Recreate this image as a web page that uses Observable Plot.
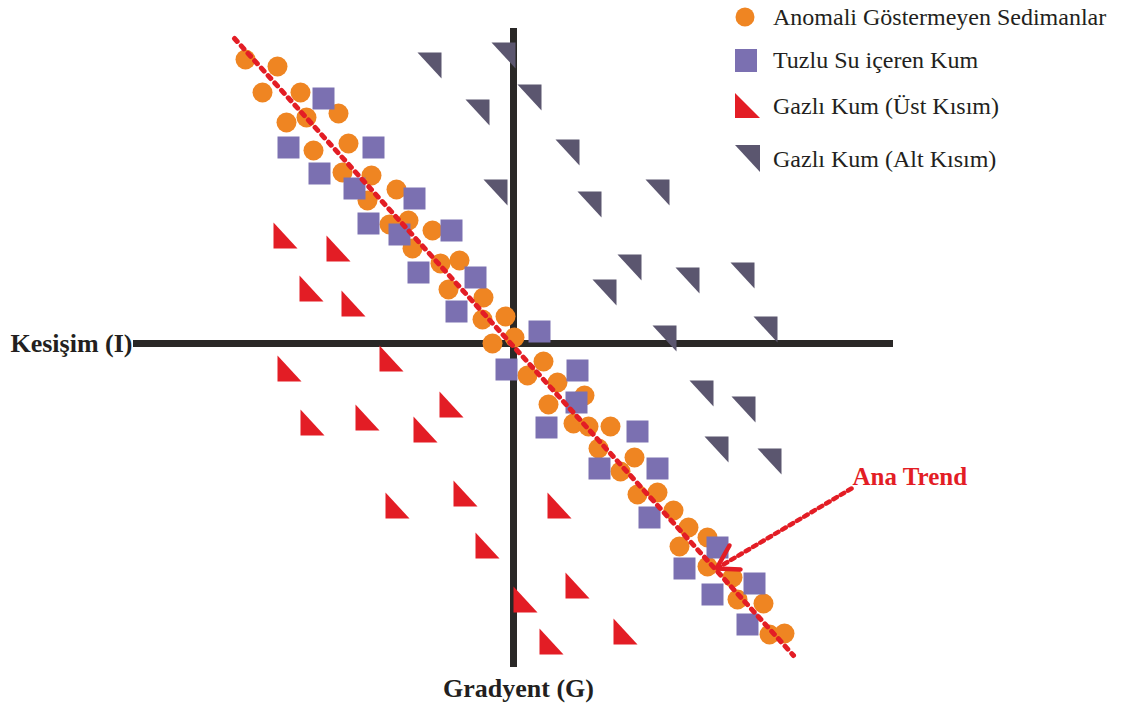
<!DOCTYPE html>
<html><head><meta charset="utf-8">
<script src="https://cdn.jsdelivr.net/npm/d3@7"></script>
<script src="https://cdn.jsdelivr.net/npm/@observablehq/plot@0.6"></script>
<style>
body{margin:0;background:#fff;}
#wrap{position:relative;width:1125px;height:711px;overflow:hidden;background:#fff;}
.lg{position:absolute;left:733px;height:30px;display:flex;align-items:center;font-family:"Liberation Serif",serif;font-size:24px;color:#231f20;white-space:nowrap;}
.lg svg{margin-right:10px;}
</style></head><body><div id="wrap"></div>
<script>
// Anomali Göstermeyen Sedimanlar (circles)
const sedimentX = [-26.8,-23.6,-25.1,-21.3,-20.7,-22.7,-17.5,-20.0,-16.5,-17.1,-14.2,-14.6,-11.7,-12.4,-10.5,-8.1,-10.1,-7.3,-5.4,-6.5,-3.0,-3.1,-0.8,-2.1,0.1,3.0,1.4,4.4,7.1,3.5,6.0,7.5,9.7,8.5,12.1,10.7,12.4,14.4,16.0,17.5,19.4,16.6,19.4,21.9,22.4,25.0,25.6,27.1];
const sedimentY = [28.4,27.7,25.1,25.1,22.6,22.1,23.0,19.3,20.0,17.1,16.8,14.3,15.4,11.9,12.3,11.3,9.5,8.0,8.3,5.4,4.6,2.4,2.7,0.0,0.6,-1.8,-3.2,-3.9,-5.2,-6.1,-8.0,-8.3,-8.3,-10.5,-11.4,-12.8,-15.1,-14.9,-16.7,-18.4,-19.4,-20.3,-22.3,-23.4,-25.6,-26.0,-29.1,-29.0];
// Tuzlu Su içeren Kum (squares)
const brineX = [-19.0,-22.5,-14.0,-19.4,-15.9,-9.9,-14.5,-11.4,-6.2,-9.5,-3.8,-5.7,2.6,-0.7,6.4,6.3,3.3,12.4,8.6,14.4,13.6,20.4,17.1,24.1,19.9,23.4];
const brineY = [24.5,19.6,19.6,17.0,15.5,14.5,12.0,10.9,11.3,7.1,6.6,3.2,1.2,-2.6,-2.7,-5.9,-8.4,-8.8,-12.5,-12.5,-17.4,-20.4,-22.5,-24.0,-25.1,-28.1];
// Gazlı Kum (Üst Kısım) (red triangles)
const gasTopX = [-22.8,-17.5,-20.2,-16.0,-22.4,-12.2,-20.1,-14.6,-6.2,-8.8,-11.6,-4.8,-2.6,4.6,1.2,6.4,3.8,11.2];
const gasTopY = [10.8,9.5,5.5,4.0,-2.5,-1.5,-7.9,-7.4,-6.1,-8.6,-16.2,-15.0,-20.2,-16.2,-25.6,-24.2,-29.8,-28.8];
// Gazlı Kum (Alt Kısım) (dark triangles)
const gasBaseX = [-8.4,-1.0,-3.6,1.6,5.4,-1.8,7.6,14.4,11.6,9.1,17.4,22.9,15.1,25.2,18.8,23.0,20.3,25.6];
const gasBaseY = [27.8,28.8,23.1,24.6,19.1,15.1,13.9,15.1,7.6,5.1,6.3,6.8,0.5,1.4,-5.0,-6.6,-10.6,-11.8];
// Ana Trend line and pointer
const trendX = [-27.9, 28.0];
const trendY = [30.5, -31.2];
const pointerX = [33.8, 20.4];
const pointerY = [-14.5, -22.45];
const arrowX = [21.6, 20.3, 22.7];
const arrowY = [-20.2, -22.5, -22.6];
const trendLabel = "Ana Trend";
// axes extents
const axisIX = [-38.0, 38.0];
const axisGY = [31.5, -32.4];
const axisLabels = ["Kesişim (I)", "Gradyent (G)"];
const legendLabels = ["Anomali Göstermeyen Sedimanlar","Tuzlu Su içeren Kum","Gazlı Kum (Üst Kısım)","Gazlı Kum (Alt Kısım)"];

const colors = {sed:"#ef8522", brine:"#7b70b1", top:"#e31d25", base:"#5b566f", axis:"#2a2827"};

const sqSym = {draw(c,size){const h=Math.sqrt(size/Math.PI);c.moveTo(-h,-h);c.lineTo(h,-h);c.lineTo(h,h);c.lineTo(-h,h);c.closePath();}};
const topSym = {draw(c,size){const h=Math.sqrt(size/Math.PI);c.moveTo(-h,-h*1.08);c.lineTo(h,h*1.08);c.lineTo(-h,h*1.08);c.closePath();}};
const baseSym = {draw(c,size){const h=Math.sqrt(size/Math.PI);c.moveTo(-h,-h*1.08);c.lineTo(h,-h*1.08);c.lineTo(h,h*1.08);c.closePath();}};

const sed = sedimentX.map((x,i)=>({x,y:sedimentY[i]}));
const brine = brineX.map((x,i)=>({x,y:brineY[i]}));
const gtop = gasTopX.map((x,i)=>({x,y:gasTopY[i]}));
const gbase = gasBaseX.map((x,i)=>({x,y:gasBaseY[i]}));
const trend = trendX.map((x,i)=>({x,y:trendY[i]}));
const pointer = pointerX.map((x,i)=>({x,y:pointerY[i]}));
const arrow = arrowX.map((x,i)=>({x,y:arrowY[i]}));

const serif = "Liberation Serif, Times New Roman, serif";

const chart = Plot.plot({
  width:1125, height:711,
  marginLeft:0, marginRight:0, marginTop:0, marginBottom:0,
  x:{domain:[-51.3,61.2], axis:null},
  y:{domain:[-36.8,34.3], axis:null},
  style:{background:"#fff"},
  marks:[
    Plot.ruleY([0],{x1:axisIX[0], x2:axisIX[1], stroke:colors.axis, strokeWidth:7}),
    Plot.ruleX([0],{y1:axisGY[0], y2:axisGY[1], stroke:colors.axis, strokeWidth:7}),
    Plot.text([axisLabels[0]],{x:axisIX[0], y:0, textAnchor:"end", dx:-1, fontFamily:serif, fontWeight:"bold", fontSize:26, fill:"#231f20"}),
    Plot.text([axisLabels[1]],{x:0, y:axisGY[1], dx:5, dy:21, lineAnchor:"middle", fontFamily:serif, fontWeight:"bold", fontSize:26, fill:"#231f20"}),
    Plot.dot(gtop,{x:"x",y:"y",r:12,symbol:topSym,fill:colors.top,stroke:"none"}),
    Plot.dot(gbase,{x:"x",y:"y",r:12,symbol:baseSym,fill:colors.base,stroke:"none"}),
    Plot.dot(sed,{x:"x",y:"y",r:10,fill:colors.sed,stroke:"none"}),
    Plot.dot(brine,{x:"x",y:"y",r:11,symbol:sqSym,fill:colors.brine,stroke:"none"}),
    Plot.line(trend,{x:"x",y:"y",stroke:colors.top,strokeWidth:5,strokeDasharray:"4 6"}),
    Plot.line(pointer,{x:"x",y:"y",stroke:colors.top,strokeWidth:4.5,strokeDasharray:"4 4.5"}),
    Plot.line(arrow,{x:"x",y:"y",stroke:colors.top,strokeWidth:4.5,strokeLinejoin:"miter"}),
    Plot.text([trendLabel],{x:pointerX[0], y:pointerY[0], dx:1, dy:-12, textAnchor:"start", fontFamily:serif, fontWeight:"bold", fontSize:25, fill:colors.top})
  ]
});
const wrap = document.getElementById("wrap");
wrap.appendChild(chart);

const legendSyms = [
  `<circle cx="12" cy="15" r="9.5" fill="${colors.sed}"/>`,
  `<rect x="2" y="4" width="22" height="23" fill="${colors.brine}"/>`,
  `<path d="M2,2L2,27L27,27Z" fill="${colors.top}"/>`,
  `<path d="M2,1L27,1L27,28Z" fill="${colors.base}"/>`
];
const legendCenters = [17, 60, 106, 159];
legendLabels.forEach((lab,i)=>{
  const d = document.createElement("div");
  d.className="lg";
  d.style.top = (legendCenters[i]-15)+"px";
  d.innerHTML = `<svg width="30" height="30">${legendSyms[i]}</svg><span>${lab}</span>`;
  wrap.appendChild(d);
});
</script></body></html>
